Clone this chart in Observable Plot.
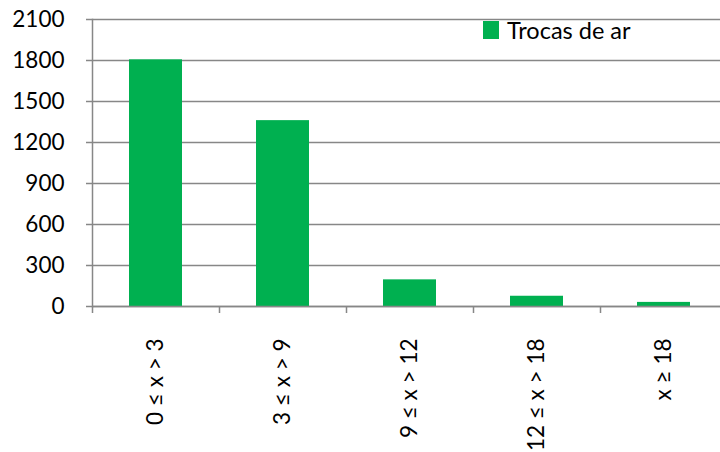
<!DOCTYPE html>
<html>
<head>
<meta charset="utf-8">
<script src="https://cdn.jsdelivr.net/npm/d3@7"></script>
<script src="https://cdn.jsdelivr.net/npm/@observablehq/plot@0.6"></script>
<style>
  html, body { margin: 0; padding: 0; background: #fff; }
  #wrap { position: relative; width: 720px; height: 452px; overflow: hidden; }
  #legend { position: absolute; left: 483px; top: 16px; display: flex; align-items: center;
            font-family: Lato, "Open Sans", sans-serif; font-size: 23.5px; color: #000; }
  #legend .sw { width: 16px; height: 18px; margin-right: 8px; }
</style>
</head>
<body>
<div id="wrap"></div>
<script>
const categories = ["0 ≤ x > 3", "3 ≤ x > 9", "9 ≤ x > 12", "12 ≤ x > 18", "x ≥ 18"];
const values = [1805, 1360, 195, 75, 30];
const yTicks = [0, 300, 600, 900, 1200, 1500, 1800, 2100];
const seriesName = "Trocas de ar";
const barColor = "#00B050";
const gridColor = "#878787";

const data = categories.map((c, i) => ({category: c, value: values[i]}));

const chart = Plot.plot({
  width: 720,
  height: 452,
  marginLeft: 92,
  marginRight: 0,
  marginTop: 19,
  marginBottom: 146,
  style: {fontFamily: "Lato, 'Open Sans', sans-serif", fontSize: "22px", color: "#000", background: "#fff"},
  x: {domain: categories, range: [92, 727], paddingInner: 0.58, paddingOuter: 0.29},
  y: {domain: [0, 2100], ticks: yTicks},
  marks: [
    Plot.gridY(yTicks, {stroke: gridColor, strokeOpacity: 1, strokeWidth: 1.3}),
    Plot.barY(data, {x: "category", y: "value", fill: barColor}),
    Plot.ruleY([0], {stroke: gridColor, strokeWidth: 1.5}),
    Plot.frame({anchor: "left", stroke: gridColor, strokeWidth: 1.5}),
    Plot.axisY(yTicks, {tickSize: 6, tickPadding: 22, tickFormat: d => String(d), stroke: gridColor, strokeWidth: 1.5, fill: "#000", fontSize: 22.5, label: null}),
    Plot.axisX({tickSize: 7, tickFormat: () => "", dx: -63.5, stroke: gridColor, strokeWidth: 1.5, label: null}),
    Plot.axisX({tickSize: 0, tickPadding: 32, tickRotate: -90, fill: "#000", fontSize: 22.5, label: null})
  ]
});

const wrap = document.getElementById("wrap");
wrap.appendChild(chart);
const legend = document.createElement("div");
legend.id = "legend";
legend.innerHTML = `<div class="sw" style="background:${barColor}"></div><span>${seriesName}</span>`;
wrap.appendChild(legend);
</script>
</body>
</html>
